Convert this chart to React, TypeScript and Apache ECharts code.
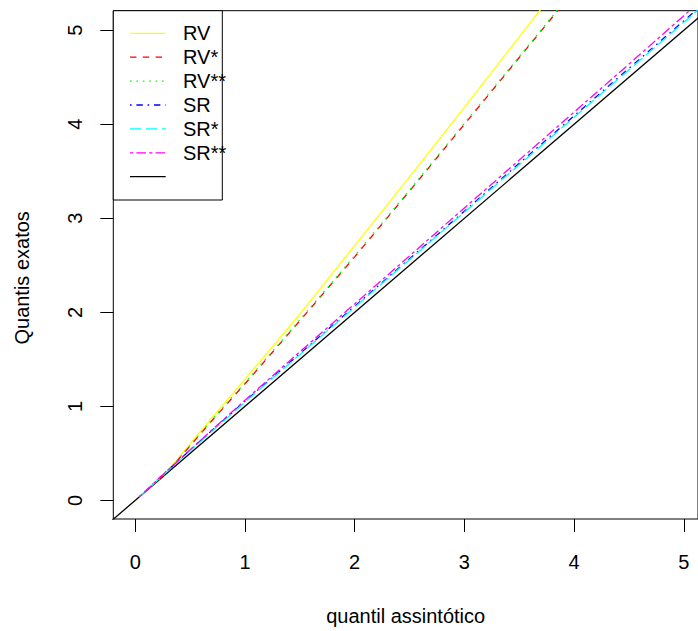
import React, { useEffect, useRef } from "react";
import * as echarts from "echarts";

// asymptotic quantiles (x) and exact quantiles (y)
const quantX = [0.04, 0.3, 0.7, 1.0, 1.5, 2.0, 2.5, 3.0, 3.5, 4.0, 4.5, 5.0, 5.5];
const rvY = [0.04, 0.32, 0.88, 1.29, 1.98, 2.71, 3.44, 4.18, 4.93, 5.68];
const rvStarY = [0.04, 0.31, 0.85, 1.24, 1.91, 2.59, 3.29, 4.0, 4.71, 5.42];
const rvStar2Y = [0.04, 0.31, 0.86, 1.25, 1.92, 2.6, 3.3, 4.01, 4.72, 5.43];
const srY = [0.04, 0.325, 0.745, 1.055, 1.56, 2.065, 2.57, 3.075, 3.585, 4.09, 4.595, 5.1, 5.605];
const srStarY = [0.04, 0.32, 0.735, 1.045, 1.55, 2.055, 2.56, 3.065, 3.57, 4.075, 4.58, 5.085, 5.59];
const srStar2Y = [0.04, 0.325, 0.75, 1.065, 1.58, 2.09, 2.6, 3.11, 3.62, 4.13, 4.64, 5.155, 5.67];
const refX = [-0.3, 6];
const refY = [-0.3, 6];

const seriesNames = ["RV", "RV*", "RV**", "SR", "SR*", "SR**", ""];
const seriesColors = ["#FFFF00", "#FF0000", "#00FF00", "#0000FF", "#00FFFF", "#FF00FF", "#000000"];
const seriesDashes: (number[] | "solid")[] = [
  "solid",
  [6.4, 6.4],
  [1.6, 4.8],
  [1.6, 4.8, 6.4, 4.8],
  [11.2, 4.8],
  [3.2, 3.2, 9.6, 3.2],
  "solid",
];
const tickValues = [0, 1, 2, 3, 4, 5];
const xTitle = "quantil assintótico";
const yTitle = "Quantis exatos";

const FONT = "'Liberation Sans', Arial, Helvetica, sans-serif";
const FS = 20;

export default function App() {
  const ref = useRef<HTMLDivElement>(null);
  useEffect(() => {
    if (!ref.current) return;
    const chart = echarts.init(ref.current, undefined, { renderer: "svg" });
    const ys = [rvY, rvStarY, rvStar2Y, srY, srStarY, srStar2Y];
    const series: any[] = ys.map((arr, k) => ({
      name: seriesNames[k],
      type: "line",
      showSymbol: false,
      symbol: "none",
      clip: true,
      z: 3,
      data: arr.map((v, i) => [quantX[i], v]),
      lineStyle: { color: seriesColors[k], width: 1.3, type: seriesDashes[k] },
    }));
    series.push({
      name: "ref",
      type: "line",
      showSymbol: false,
      symbol: "none",
      clip: true,
      z: 2,
      data: refX.map((x, i) => [x, refY[i]]),
      lineStyle: { color: "#000", width: 1.3, type: "solid" },
    });

    const legendLeft = 113.3;
    const legendTop = 10.7;
    const rowH = 23.9;
    const legendEls: any[] = [
      {
        type: "rect",
        shape: { x: legendLeft, y: legendTop, width: 109, height: 189.3 },
        style: { fill: "#fff", stroke: "#000", lineWidth: 1 },
        z: 10,
      },
    ];
    seriesNames.forEach((n, k) => {
      const y = 33.3 + k * rowH;
      legendEls.push({
        type: "line",
        shape: { x1: 130, y1: y, x2: 165.7, y2: y },
        style: {
          stroke: seriesColors[k],
          lineWidth: 1.3,
          lineDash: seriesDashes[k] === "solid" ? null : seriesDashes[k],
        },
        z: 11,
      });
      if (n) {
        legendEls.push({
          type: "text",
          x: 183,
          y: y,
          style: { text: n, fill: "#000", font: `${FS}px ${FONT}`, verticalAlign: "middle", align: "left" },
          z: 11,
        });
      }
    });

    chart.setOption({
      animation: false,
      backgroundColor: "#fff",
      grid: { left: 113.3, top: 10.7, right: -1, bottom: 106.7, show: true, borderColor: "#000", borderWidth: 1 },
      xAxis: {
        type: "value",
        min: -0.2,
        max: 5.129,
        name: xTitle,
        nameLocation: "middle",
        nameGap: 87,
        nameTextStyle: { color: "#000", fontSize: FS, fontFamily: FONT },
        axisLine: { show: false, onZero: false },
        axisTick: { show: true, length: 13, inside: false, customValues: tickValues, lineStyle: { color: "#000" } },
        axisLabel: { customValues: tickValues, color: "#000", fontSize: FS, fontFamily: FONT, margin: 33 },
        splitLine: { show: false },
      },
      yAxis: {
        type: "value",
        min: -0.198,
        max: 5.208,
        name: yTitle,
        nameLocation: "middle",
        nameGap: 81,
        nameTextStyle: { color: "#000", fontSize: FS, fontFamily: FONT, padding: [0, 26, 0, 0] },
        axisLine: { show: false, onZero: false },
        axisTick: { show: true, length: 13, inside: false, customValues: tickValues, lineStyle: { color: "#000" } },
        axisLabel: { customValues: tickValues, color: "#000", fontSize: FS, fontFamily: FONT, margin: 28, rotate: 90 },
        splitLine: { show: false },
      },
      series,
      graphic: { elements: legendEls },
    });
    return () => chart.dispose();
  }, []);
  return (
    <div
      ref={ref}
      style={{ position: "fixed", left: 0, top: 0, width: 698, height: 631, background: "#fff" }}
    />
  );
}
